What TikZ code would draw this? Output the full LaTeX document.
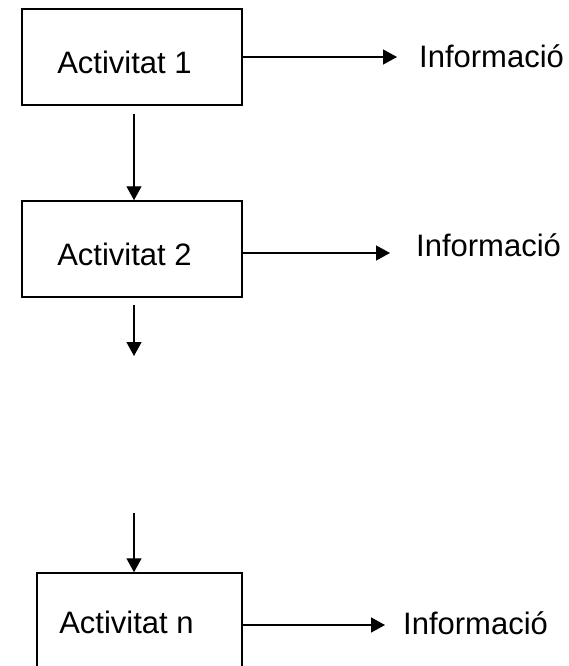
\documentclass[tikz,border=0pt]{standalone}
\usepackage{fontspec}
\setmainfont{Liberation Sans}
\usetikzlibrary{arrows.meta}
\tikzset{
  activitat/.style={draw, line width=1.5pt, minimum width=220pt, minimum height=96pt, inner sep=0pt},
  etiqueta/.style={inner sep=0pt, font=\fontsize{31}{37}\selectfont},
  info/.style={anchor=west, inner sep=0pt, font=\fontsize{31}{37}\selectfont},
  fletxa/.style={line width=1.4pt, -{Triangle[length=14pt,width=15pt]}}
}
\begin{document}
\begin{tikzpicture}[x=1pt,y=-1pt]
            % marges
            \useasboundingbox (0,0) rectangle (569,666);
            % activitats
            \node[activitat] (act1) at (132,57) {};
            \node[activitat] (act2) at (132,249) {};
            \node[activitat, minimum width=205pt] (actn) at (139.5,621) {};
            \node[etiqueta] (txt1) at (124.5,62.5) {Activitat 1};
            \node[etiqueta] (txt2) at (124.5,254) {Activitat 2};
            \node[etiqueta] (txtn) at (126.5,622) {Activitat n};
            % informacio
            \node[info] (inf1) at (419,56) {Informació};
            \node[info] (inf2) at (416,245) {Informació};
            \node[info] (infn) at (403,623) {Informació};
            % punts lliures
            \coordinate (p2) at (134,356);
            \coordinate (p3) at (134,513);
            % fletxes
            \draw[fletxa, shorten >=22pt] (act1.east) -- (act1.east -| inf1.west);
            \draw[fletxa, shorten >=26pt] ([yshift=-4pt]act2.east) -- ([yshift=-4pt]act2.east -| inf2.west);
            \draw[fletxa, shorten >=18pt] ([yshift=-4pt]actn.east) -- ([yshift=-4pt]actn.east -| infn.west);
            \draw[fletxa] ([xshift=2pt,yshift=-8pt]act1.south) -- ([xshift=2pt]act2.north);
            \draw[fletxa] ([xshift=2pt,yshift=-7pt]act2.south) -- (p2);
            \draw[fletxa] (p3) -- (p3 |- actn.north);
\end{tikzpicture}
\end{document}
